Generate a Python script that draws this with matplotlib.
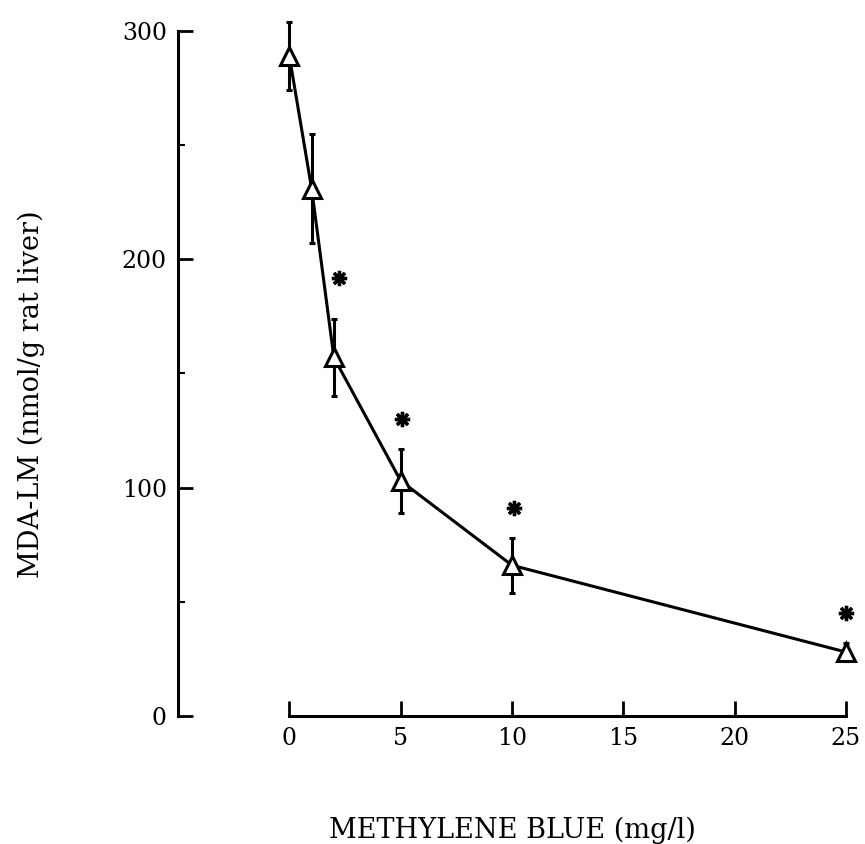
import matplotlib
matplotlib.use('Agg')
import matplotlib.pyplot as plt

# data
dose = [0, 1, 2, 5, 10, 25]
mda = [289, 231, 157, 103, 66, 28]
sem = [15, 24, 17, 14, 12, 4]

# significance marks (position of the asterisks)
star_x = [2.25, 5.05, 10.1, 25]
star_y = [192, 130, 91, 45]

plt.rcParams['font.family'] = ['DejaVu Serif']

fig = plt.figure(figsize=(8.65, 8.44), dpi=100)
ax = fig.add_axes([0.2058, 0.1517, 0.978 - 0.2058, 0.9633 - 0.1517])

ax.errorbar(dose, mda, yerr=sem, color='black', lw=2.2, elinewidth=2.2,
            capsize=2, capthick=2, marker='^', ms=13, mfc='white',
            mec='black', mew=2.2, clip_on=False, zorder=3)
ax.plot(star_x, star_y, ls='none', marker=(8, 2, 0), ms=11, mew=2.4,
        color='black', clip_on=False)

ax.set_xlim(-5, 25)
ax.set_ylim(0, 300)
ax.spines['top'].set_visible(False)
ax.spines['right'].set_visible(False)
ax.spines['left'].set_linewidth(2.2)
ax.spines['bottom'].set_linewidth(2.2)
ax.spines['bottom'].set_bounds(0, 25)

ax.set_xticks([0, 5, 10, 15, 20, 25])
ax.set_yticks([0, 100, 200, 300])
ax.set_yticks([50, 150, 250], minor=True)
ax.tick_params(axis='both', which='major', direction='in', length=11,
               width=2, labelsize=17, pad=8)
ax.tick_params(axis='y', which='minor', direction='in', length=5, width=1.5)

ax.set_xlabel('METHYLENE BLUE (mg/l)', fontsize=19.5)
ax.xaxis.set_label_coords(0.5, -0.147)
ax.set_ylabel('MDA-LM (nmol/g rat liver)', fontsize=19.5)
ax.yaxis.set_label_coords(-0.199, 0.47)

fig.savefig('out.png', dpi=100)
